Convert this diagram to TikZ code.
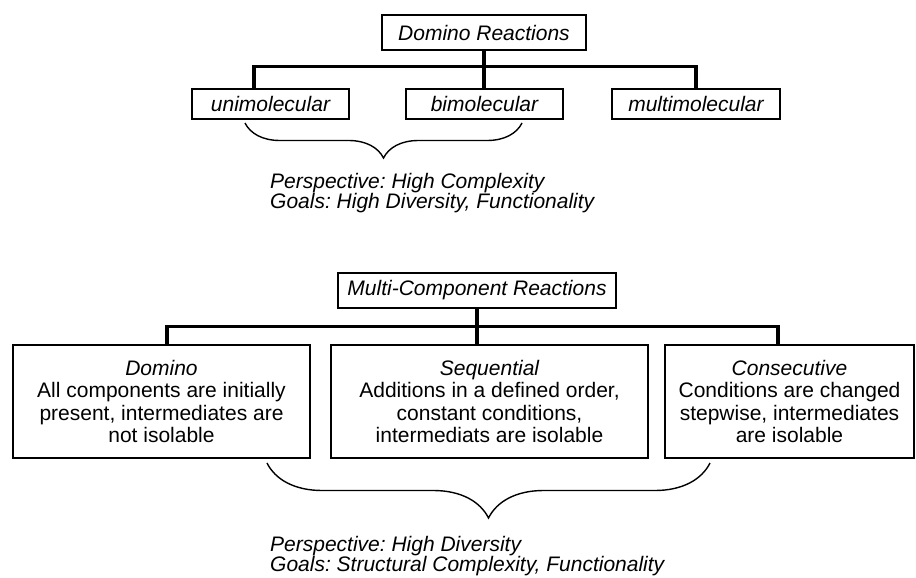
\documentclass[tikz,border=0pt]{standalone}
\usepackage{fontspec}
\setmainfont{Liberation Sans}
\usetikzlibrary{decorations.pathreplacing}
\frenchspacing

\tikzset{
box/.style={draw,line width=1.6pt,inner sep=0pt,align=center,
font=\fontsize{21}{22.5}\selectfont},
tie/.style={line width=3.2pt},
curly/.style={line width=1.4pt,decorate,
decoration={brace,mirror,amplitude=#1}},
note/.style={inner sep=0pt,align=left,
font=\fontsize{21}{20}\selectfont\itshape}
}

\begin{document}
\begin{tikzpicture}[x=1pt,y=-1pt]
\fill[white] (0,0) rectangle (916,578);
\useasboundingbox (0,0) rectangle (916,578);

% Domino reactions
\node[box,minimum width=204pt,minimum height=35pt]
(DR)
at (484,32.5)
{\itshape Domino Reactions};

\node[box,minimum width=157pt,minimum height=30pt]
(UNI)
at (270.5,104)
{\itshape unimolecular};

\node[box,minimum width=157pt,minimum height=30pt]
(BI)
at (484.5,104)
{\itshape bimolecular};

\node[box,minimum width=168pt,minimum height=30pt]
(MULTI)
at (696,104)
{\itshape multimolecular};

% Lines
\draw[tie] (DR.south) -- (DR.south |- BI.north);
\draw[tie] ([xshift=-16.5pt]UNI.north) -- ++(0,-22) -| (MULTI.north);

% Brace
\coordinate (b1) at (245,123);
\coordinate (b2) at (522,123);
\draw[curly=35pt] (b1) -- (b2);

\node[note,anchor=north west]
(DRnote)
at (270,173)
{Perspective: High Complexity\\Goals: High Diversity, Functionality};

% Multi-component reactions
\node[box,minimum width=278pt,minimum height=35pt]
(MCR)
at (477,290.5)
{\itshape Multi-Component Reactions};

\node[box,minimum width=297pt,minimum height=113pt]
(DOM)
at (161.5,401.5)
{{\itshape Domino}\\All components are initially\\present, intermediates are\\not isolable};

\node[box,minimum width=317pt,minimum height=113pt]
(SEQ)
at (489.5,401.5)
{{\itshape Sequential}\\Additions in a defined order,\\constant conditions,\\intermediats are isolable};

\node[box,minimum width=249pt,minimum height=113pt]
(CON)
at (789.5,401.5)
{{\itshape Consecutive}\\Conditions are changed\\stepwise, intermediates\\are isolable};

% Lines
\draw[tie] (MCR.south) -- (MCR.south |- SEQ.north);
\draw[tie] ([xshift=5.5pt]DOM.north) -- ++(0,-18) -| ([xshift=-11.5pt]CON.north);

% Brace
\coordinate (b3) at (267,463);
\coordinate (b4) at (710,463);
\draw[curly=55pt] (b3) -- (b4);

\node[note,anchor=north west]
(MCRnote)
at (270,536)
{Perspective: High Diversity\\Goals: Structural Complexity, Functionality};

\end{tikzpicture}
\end{document}
